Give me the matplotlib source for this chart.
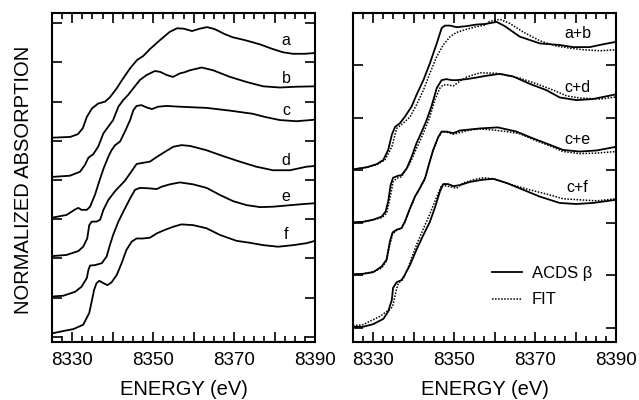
import matplotlib
matplotlib.use("Agg")
import matplotlib.pyplot as plt
from matplotlib.ticker import MultipleLocator, FuncFormatter

plt.rcParams['font.family'] = ['Liberation Sans', 'DejaVu Sans']

# ---- left panel: individual spectra (stacked, axis units) ----
e_a = [8325, 8329.5, 8331.4, 8332.6, 8333.6, 8334.9, 8336.4, 8338.1, 8339.3, 8341.0, 8342.3, 8344.3,
       8346.0, 8347.5, 8349.2, 8351.7, 8354.1, 8355.9, 8357.6, 8359.6, 8361.5, 8363.3, 8365.2, 8367.7,
       8369.7, 8372.6, 8376.4, 8379.3, 8382.0, 8384.5, 8387.5, 8390]
a_vals = [5.08, 5.10, 5.17, 5.32, 5.61, 5.83, 5.95, 6.00, 6.11, 6.34, 6.55, 6.85,
          7.06, 7.16, 7.34, 7.57, 7.78, 7.87, 7.86, 7.80, 7.86, 7.90, 7.85, 7.72,
          7.64, 7.57, 7.46, 7.35, 7.26, 7.22, 7.22, 7.24]

e_b = [8325, 8329.4, 8331.9, 8333.1, 8334.0, 8335.2, 8336.4, 8337.7, 8338.9, 8340.1, 8341.4, 8342.6,
       8343.8, 8345.1, 8346.7, 8348.4, 8350.4, 8351.7, 8353.3, 8354.9, 8356.6, 8357.8, 8359.1, 8362.0,
       8364.8, 8369.0, 8373.1, 8377.2, 8381.3, 8385.4, 8390]
b_vals = [4.08, 4.11, 4.21, 4.38, 4.57, 4.66, 4.85, 5.19, 5.36, 5.53, 5.87, 6.04,
          6.17, 6.34, 6.55, 6.68, 6.78, 6.76, 6.68, 6.63, 6.72, 6.75, 6.80, 6.87,
          6.80, 6.63, 6.50, 6.39, 6.36, 6.38, 6.39]

e_c = [8325, 8328.6, 8330.7, 8331.5, 8332.3, 8333.6, 8334.4, 8335.6, 8336.9, 8337.8, 8338.9, 8339.7,
       8340.6, 8341.8, 8343.0, 8344.3, 8345.1, 8345.9, 8347.1, 8348.4, 8349.7, 8351.2, 8353.3, 8356.6,
       8363.2, 8369.0, 8374.6, 8377.6, 8381.3, 8385.4, 8390]
c_vals = [3.04, 3.11, 3.25, 3.29, 3.24, 3.24, 3.32, 3.62, 4.04, 4.31, 4.59, 4.76,
          4.89, 4.98, 5.23, 5.53, 5.78, 5.89, 5.91, 5.85, 5.81, 5.87, 5.89, 5.87,
          5.84, 5.77, 5.69, 5.61, 5.53, 5.50, 5.54]

e_d = [8325, 8328.6, 8331.5, 8332.7, 8333.7, 8334.2, 8334.8, 8336.0, 8336.9, 8337.7, 8338.9, 8340.6,
       8341.8, 8343.0, 8344.3, 8345.9, 8347.5, 8349.2, 8350.9, 8352.9, 8355.0, 8357.0, 8359.1, 8363.2,
       8367.3, 8371.4, 8375.5, 8379.6, 8383.8, 8387.9, 8390]
d_vals = [2.06, 2.09, 2.19, 2.30, 2.51, 2.85, 2.94, 2.94, 2.99, 3.24, 3.49, 3.72,
          3.85, 3.98, 4.17, 4.41, 4.44, 4.47, 4.59, 4.72, 4.85, 4.89, 4.87, 4.76,
          4.61, 4.47, 4.34, 4.25, 4.25, 4.34, 4.36]

e_e = [8325, 8327.8, 8330.7, 8332.3, 8333.6, 8334.0, 8334.4, 8335.6, 8337.3, 8338.5, 8339.3, 8340.1,
       8341.4, 8342.6, 8344.3, 8345.5, 8346.7, 8348.8, 8350.9, 8352.1, 8354.1, 8356.6, 8359.9, 8363.2,
       8366.5, 8369.8, 8373.1, 8376.4, 8379.6, 8382.9, 8386.2, 8390]
e_vals = [1.03, 1.05, 1.15, 1.28, 1.50, 1.71, 1.82, 1.83, 1.88, 2.05, 2.34, 2.60,
          2.94, 3.19, 3.53, 3.75, 3.80, 3.79, 3.77, 3.83, 3.89, 3.94, 3.89, 3.80,
          3.62, 3.46, 3.36, 3.31, 3.32, 3.35, 3.38, 3.41]

e_f = [8325, 8327.8, 8330.3, 8332.7, 8334.2, 8334.8, 8335.4, 8336.0, 8336.7, 8337.7, 8338.7, 8339.7,
       8341.0, 8342.2, 8343.4, 8344.7, 8345.9, 8347.5, 8349.2, 8350.9, 8352.9, 8355.0, 8357.0, 8359.9,
       8363.2, 8366.5, 8370.6, 8373.9, 8377.2, 8380.9, 8384.6, 8387.9, 8390]
f_vals = [0.09, 0.15, 0.20, 0.31, 0.61, 0.90, 1.20, 1.37, 1.43, 1.37, 1.32, 1.39,
          1.58, 1.88, 2.22, 2.43, 2.51, 2.51, 2.53, 2.64, 2.73, 2.81, 2.87, 2.85,
          2.77, 2.60, 2.45, 2.40, 2.34, 2.30, 2.34, 2.39, 2.45]

left_labels = ['a', 'b', 'c', 'd', 'e', 'f']
left_label_y = [7.57, 6.59, 5.78, 4.51, 3.57, 2.60]

# ---- right panel: sums (solid) and fits (dotted) ----
e_ab = [8325, 8328.4, 8330.9, 8332.5, 8333.7, 8334.6, 8335.4, 8336.6, 8337.8, 8339.5, 8340.7, 8342.4,
        8344.0, 8345.7, 8346.9, 8347.7, 8349.0, 8350.6, 8353.1, 8355.5, 8357.6, 8360.5, 8362.5, 8366.2,
        8371.2, 8376.1, 8379.4, 8383.5, 8387.2, 8390]
ab_vals = [3.02, 3.06, 3.12, 3.20, 3.39, 3.68, 3.83, 3.90, 4.02, 4.22, 4.44, 4.72,
           5.04, 5.42, 5.71, 5.76, 5.76, 5.73, 5.75, 5.78, 5.79, 5.83, 5.75, 5.55,
           5.42, 5.39, 5.35, 5.35, 5.41, 5.45]
e_ab_fit = [8325, 8328.4, 8330.9, 8332.9, 8334.6, 8335.8, 8337.4, 8339.1, 8340.7, 8342.4, 8344.0, 8345.7,
            8347.3, 8349.0, 8350.6, 8353.1, 8355.5, 8357.6, 8358.8, 8361.3, 8363.8, 8367.0, 8371.2, 8375.3,
            8378.6, 8381.9, 8386.1, 8390]
ab_fit = [3.02, 3.06, 3.11, 3.20, 3.45, 3.80, 3.90, 4.02, 4.25, 4.53, 4.85, 5.17,
          5.39, 5.55, 5.63, 5.69, 5.74, 5.77, 5.84, 5.88, 5.80, 5.64, 5.47, 5.37,
          5.33, 5.30, 5.28, 5.30]

e_cd = [8325, 8327.5, 8330.0, 8332.1, 8333.1, 8333.7, 8334.3, 8334.9, 8336.2, 8337.0, 8338.3, 8339.5,
        8340.7, 8342.0, 8343.2, 8344.4, 8345.7, 8346.9, 8348.1, 8349.4, 8350.6, 8353.1, 8355.5, 8357.6,
        8361.3, 8364.6, 8368.7, 8372.8, 8376.1, 8380.2, 8384.3, 8390]
cd_vals = [2.01, 2.02, 2.06, 2.12, 2.22, 2.41, 2.72, 2.86, 2.90, 2.91, 3.04, 3.26,
           3.52, 3.74, 3.96, 4.22, 4.57, 4.72, 4.74, 4.72, 4.72, 4.74, 4.77, 4.80,
           4.84, 4.79, 4.65, 4.53, 4.39, 4.34, 4.36, 4.45]
e_cd_fit = [8325, 8327.5, 8330.0, 8332.1, 8333.3, 8334.3, 8334.9, 8335.8, 8337.0, 8339.1, 8340.7, 8342.4,
            8344.0, 8345.2, 8346.5, 8347.3, 8348.5, 8349.8, 8351.4, 8353.1, 8356.4, 8360.5, 8366.2, 8370.4,
            8374.5, 8377.8, 8381.1, 8386.1, 8390]
cd_fit = [2.01, 2.02, 2.06, 2.10, 2.18, 2.53, 2.78, 2.85, 2.88, 3.14, 3.42, 3.71,
          4.02, 4.34, 4.57, 4.63, 4.63, 4.61, 4.70, 4.78, 4.86, 4.85, 4.76, 4.65,
          4.53, 4.42, 4.38, 4.36, 4.40]

e_ce = [8325, 8327.5, 8330.0, 8332.1, 8333.3, 8334.1, 8334.8, 8335.8, 8337.0, 8337.8, 8339.1, 8340.3,
        8341.5, 8342.8, 8343.6, 8344.8, 8346.1, 8346.9, 8348.1, 8349.8, 8351.4, 8353.9, 8356.4, 8360.8,
        8365.4, 8369.5, 8373.6, 8376.9, 8381.0, 8385.2, 8390]
ce_vals = [1.02, 1.03, 1.06, 1.17, 1.30, 1.64, 1.82, 1.87, 1.90, 2.02, 2.28, 2.50,
           2.66, 2.85, 3.07, 3.39, 3.64, 3.74, 3.74, 3.71, 3.76, 3.78, 3.80, 3.82,
           3.74, 3.61, 3.49, 3.39, 3.36, 3.38, 3.45]
e_ce_fit = [8325, 8327.5, 8330.0, 8332.1, 8333.3, 8334.1, 8334.8, 8335.8, 8337.0, 8337.8, 8339.1, 8340.3,
            8341.5, 8342.8, 8343.6, 8344.8, 8346.1, 8346.9, 8348.1, 8349.8, 8351.4, 8353.9, 8356.4, 8359.7,
            8363.0, 8366.2, 8369.5, 8373.6, 8376.9, 8381.0, 8385.2, 8390]
ce_fit = [1.02, 1.03, 1.07, 1.14, 1.28, 1.58, 1.79, 1.86, 1.90, 2.01, 2.26, 2.49,
          2.65, 2.84, 3.06, 3.37, 3.63, 3.73, 3.73, 3.69, 3.72, 3.77, 3.79, 3.77,
          3.74, 3.70, 3.59, 3.47, 3.36, 3.32, 3.33, 3.36]

e_cf = [8325, 8327.5, 8330.0, 8332.5, 8333.7, 8334.6, 8334.9, 8335.8, 8337.0, 8337.8, 8339.1, 8340.7,
        8342.4, 8344.0, 8345.2, 8346.5, 8347.3, 8348.5, 8349.8, 8351.4, 8353.9, 8356.8, 8359.7, 8363.0,
        8367.1, 8371.2, 8376.1, 8380.2, 8384.3, 8390]
cf_vals = [0.02, 0.02, 0.07, 0.17, 0.31, 0.53, 0.76, 0.87, 0.91, 1.01, 1.20, 1.49,
           1.77, 2.02, 2.28, 2.60, 2.74, 2.74, 2.70, 2.72, 2.78, 2.82, 2.84, 2.76,
           2.63, 2.50, 2.38, 2.36, 2.38, 2.44]
e_cf_fit = [8325, 8327.5, 8331.7, 8333.3, 8334.4, 8334.9, 8335.6, 8336.2, 8337.4, 8338.6, 8340.7, 8342.4,
            8344.0, 8345.7, 8346.9, 8349.0, 8350.6, 8352.2, 8354.7, 8357.2, 8359.7, 8364.6, 8368.7, 8372.8,
            8376.9, 8381.0, 8385.2, 8390]
cf_fit = [0.04, 0.06, 0.22, 0.31, 0.36, 0.44, 0.69, 0.85, 0.93, 1.14, 1.58, 1.89,
          2.17, 2.50, 2.72, 2.69, 2.66, 2.76, 2.82, 2.86, 2.84, 2.72, 2.63, 2.55,
          2.46, 2.44, 2.42, 2.46]

right_labels = ['a+b', 'c+d', 'c+e', 'c+f']
right_label_y = [5.60, 4.58, 3.58, 2.67]

xticks_major = [8330, 8340, 8350, 8360, 8370, 8380, 8390]
xtick_labelled = [8330, 8350, 8370, 8390]


def style_axis(ax, ylim):
    ax.set_xlim(8325, 8390)
    ax.set_ylim(*ylim)
    ax.set_xticks(xticks_major)
    ax.xaxis.set_major_formatter(FuncFormatter(
        lambda v, p: '%d' % v if round(v) in xtick_labelled else ''))
    ax.xaxis.set_minor_locator(MultipleLocator(2.5))
    ax.yaxis.set_major_locator(MultipleLocator(1))
    ax.set_yticklabels([])
    ax.tick_params(which='both', direction='in', top=True, right=True, width=1.2)
    ax.tick_params(which='major', length=7, labelsize=13.5, pad=7)
    ax.tick_params(which='minor', length=4)
    for s in ax.spines.values():
        s.set_linewidth(1.5)
    ax.set_xlabel('ENERGY (eV)', fontsize=14.5, labelpad=8)


fig = plt.figure(figsize=(6.39, 4.0), dpi=100)
ax1 = fig.add_axes([0.0814, 0.145, 0.4116, 0.8225])
ax2 = fig.add_axes([0.5524, 0.145, 0.4116, 0.8225])

lw = 1.3
for xs, ys in [(e_a, a_vals), (e_b, b_vals), (e_c, c_vals),
               (e_d, d_vals), (e_e, e_vals), (e_f, f_vals)]:
    ax1.plot(xs, ys, color='black', lw=lw)
for lab, yy in zip(left_labels, left_label_y):
    ax1.text(8382.8, yy, lab, ha='center', va='center', fontsize=11.5)
style_axis(ax1, (-0.13, 8.26))
fig.text(0.036, 0.55, 'NORMALIZED ABSORPTION', rotation=90, ha='center', va='center', fontsize=14.5)

solid = None
dotted = None
for xs, ys, xf, yf in [(e_ab, ab_vals, e_ab_fit, ab_fit), (e_cd, cd_vals, e_cd_fit, cd_fit),
                       (e_ce, ce_vals, e_ce_fit, ce_fit), (e_cf, cf_vals, e_cf_fit, cf_fit)]:
    solid, = ax2.plot(xs, ys, color='black', lw=lw)
    dotted, = ax2.plot(xf, yf, color='black', lw=1.1, ls=(0, (1, 1)))
for lab, yy in zip(right_labels, right_label_y):
    ax2.text(8380.5, yy, lab, ha='center', va='center', fontsize=11.5)
style_axis(ax2, (-0.27, 6.0))

ax2.legend([solid, dotted], ['ACDS \u03b2', 'FIT'], loc='upper left', bbox_to_anchor=(0.53, 0.232),
           frameon=False, fontsize=12, handlelength=1.8, handletextpad=0.55,
           labelspacing=0.7, borderpad=0, borderaxespad=0)

fig.savefig('out.png', dpi=100)
